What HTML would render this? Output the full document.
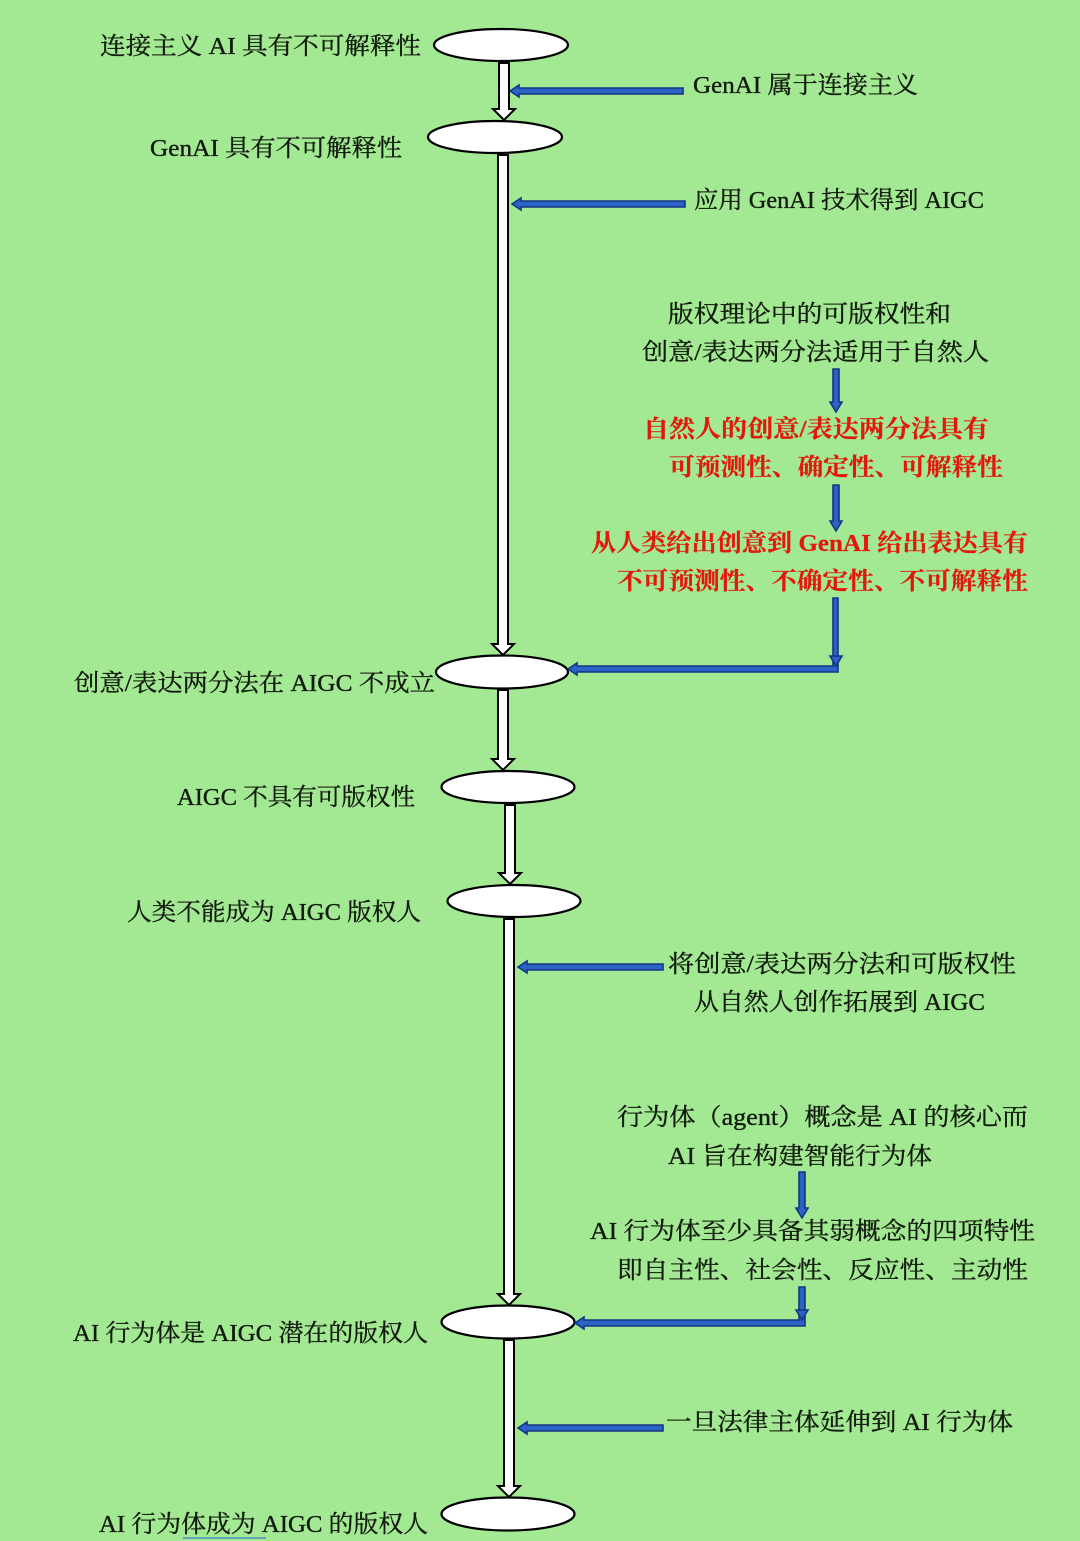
<!DOCTYPE html>
<html><head><meta charset="utf-8">
<style>
html,body{margin:0;padding:0;background:#a3e993;}
svg{display:block;}
text{font-family:"Liberation Serif","Noto Serif CJK SC",serif;font-size:24px;fill:#111a0c;stroke:#111a0c;stroke-width:0.35;dominant-baseline:central;}
.r{fill:#e3170c;stroke:#e3170c;stroke-width:0.2;font-weight:bold;}
.e{fill:#fff;stroke:#000;stroke-width:2.2;}
.w{fill:#fff;stroke:#000;stroke-width:2;stroke-linejoin:miter;}
.b{fill:#2b63c4;stroke:#143584;stroke-width:1.6;stroke-linejoin:miter;}
</style></head>
<body>
<svg width="1080" height="1541" viewBox="0 0 1080 1541" xmlns="http://www.w3.org/2000/svg">
<rect width="1080" height="1541" fill="#a3e993"/>

<!-- white arrows (shafts) -->
<polygon class="w" points="499,63 509,63 509,109 515,109 504,120 493,109 499,109"/>
<polygon class="w" points="498,155 508,155 508,644 514,644 503,655 492,644 498,644"/>
<polygon class="w" points="498,690 508,690 508,759 514,759 503,770 492,759 498,759"/>
<polygon class="w" points="505,805 515,805 515,873 521,873 510,884 499,873 505,873"/>
<polygon class="w" points="504,919 514,919 514,1294 520,1294 509,1305 498,1294 504,1294"/>
<polygon class="w" points="504,1340 514,1340 514,1486 520,1486 509,1497 498,1486 504,1486"/>

<!-- ellipses -->
<ellipse class="e" cx="501" cy="45" rx="67" ry="16"/>
<ellipse class="e" cx="495" cy="137" rx="67" ry="16"/>
<ellipse class="e" cx="502" cy="672" rx="66" ry="16.5"/>
<ellipse class="e" cx="508" cy="787" rx="66.5" ry="16"/>
<ellipse class="e" cx="514" cy="901" rx="66.5" ry="16"/>
<ellipse class="e" cx="508" cy="1322" rx="66.5" ry="16.5"/>
<ellipse class="e" cx="508" cy="1514" rx="66.5" ry="16.5"/>

<!-- blue horizontal arrows -->
<polygon class="b" points="510,91 519,85 519,88 683,88 683,94 519,94 519,97"/>
<polygon class="b" points="512,204 521,198 521,201 685,201 685,207 521,207 521,210"/>
<polygon class="b" points="518,967 527,961 527,964 663,964 663,970 527,970 527,973"/>
<polygon class="b" points="518,1428 527,1422 527,1425 663,1425 663,1431 527,1431 527,1434"/>

<!-- blue vertical arrows -->
<polygon class="b" points="833,369 839,369 839,402 842,402 836,412 830,402 833,402"/>
<polygon class="b" points="833,485 839,485 839,521 842,521 836,531 830,521 833,521"/>
<polygon class="b" points="799,1172 805,1172 805,1208 808,1208 802,1218 796,1208 799,1208"/>

<!-- L arrows -->
<polygon class="b" points="833,598 838,598 838,672 577,672 577,675 568,669 577,663 577,666 833,666"/>
<polygon class="b" points="830,656 842,656 836,666"/>
<polygon class="b" points="799,1287 805,1287 805,1326 584,1326 584,1329 575,1323 584,1317 584,1320 799,1320"/>
<polygon class="b" points="796,1310 808,1310 802,1320"/>

<!-- left labels -->
<text x="100" y="47" textLength="321" lengthAdjust="spacingAndGlyphs">连接主义 AI 具有不可解释性</text>
<text x="150" y="149" textLength="252" lengthAdjust="spacingAndGlyphs">GenAI 具有不可解释性</text>
<text x="74" y="684" textLength="361" lengthAdjust="spacingAndGlyphs">创意/表达两分法在 AIGC 不成立</text>
<text x="177" y="798" textLength="238" lengthAdjust="spacingAndGlyphs">AIGC 不具有可版权性</text>
<text x="127" y="913" textLength="294" lengthAdjust="spacingAndGlyphs">人类不能成为 AIGC 版权人</text>
<text x="73" y="1334" textLength="355" lengthAdjust="spacingAndGlyphs">AI 行为体是 AIGC 潜在的版权人</text>
<text x="99" y="1525" textLength="329" lengthAdjust="spacingAndGlyphs">AI 行为体成为 AIGC 的版权人</text>
<line x1="183" y1="1538" x2="266" y2="1538" stroke="#4a8fc4" stroke-width="1.6"/>

<!-- right labels -->
<text x="693" y="86" textLength="225" lengthAdjust="spacingAndGlyphs">GenAI 属于连接主义</text>
<text x="694" y="201" textLength="290" lengthAdjust="spacingAndGlyphs">应用 GenAI 技术得到 AIGC</text>
<text x="668" y="315" textLength="283" lengthAdjust="spacingAndGlyphs">版权理论中的可版权性和</text>
<text x="642" y="353" textLength="347" lengthAdjust="spacingAndGlyphs">创意/表达两分法适用于自然人</text>
<text class="r" x="643" y="430" textLength="346" lengthAdjust="spacingAndGlyphs">自然人的创意/表达两分法具有</text>
<text class="r" x="669" y="468" textLength="334" lengthAdjust="spacingAndGlyphs">可预测性、确定性、可解释性</text>
<text class="r" x="591" y="544" textLength="437" lengthAdjust="spacingAndGlyphs">从人类给出创意到 GenAI 给出表达具有</text>
<text class="r" x="617" y="582" textLength="411" lengthAdjust="spacingAndGlyphs">不可预测性、不确定性、不可解释性</text>
<text x="668" y="965" textLength="348" lengthAdjust="spacingAndGlyphs">将创意/表达两分法和可版权性</text>
<text x="694" y="1003" textLength="291" lengthAdjust="spacingAndGlyphs">从自然人创作拓展到 AIGC</text>
<text x="617" y="1118" textLength="411" lengthAdjust="spacingAndGlyphs">行为体（agent）概念是 AI 的核心而</text>
<text x="668" y="1157" textLength="264" lengthAdjust="spacingAndGlyphs">AI 旨在构建智能行为体</text>
<text x="590" y="1232" textLength="445" lengthAdjust="spacingAndGlyphs">AI 行为体至少具备其弱概念的四项特性</text>
<text x="617" y="1271" textLength="411" lengthAdjust="spacingAndGlyphs">即自主性、社会性、反应性、主动性</text>
<text x="666" y="1423" textLength="347" lengthAdjust="spacingAndGlyphs">一旦法律主体延伸到 AI 行为体</text>
</svg>
</body></html>
